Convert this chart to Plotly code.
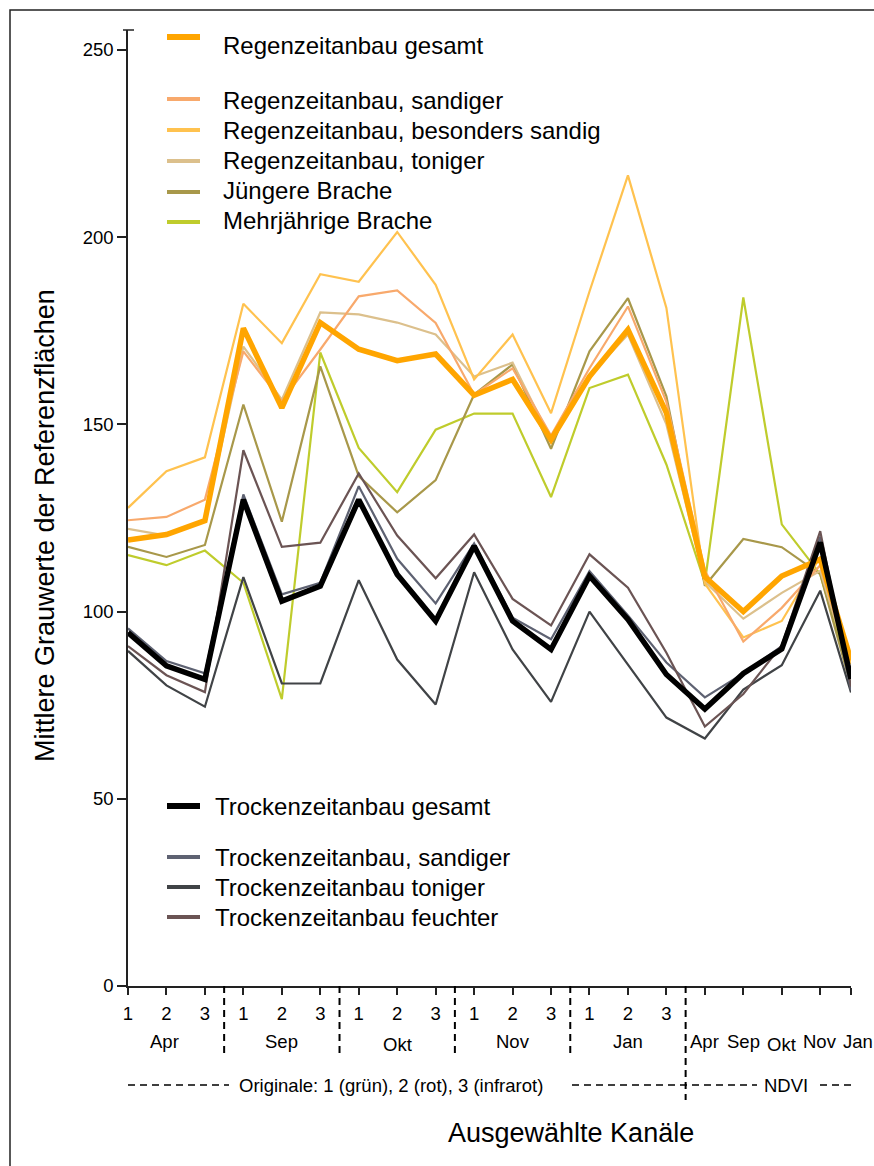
import plotly.graph_objects as go

# Channel labels: three original bands per date, then the NDVI dates
kanal_nr = ["1", "2", "3"] * 5 + [""] * 5
monate_original = ["Apr", "Sep", "Okt", "Nov", "Jan"]
monate_ndvi = ["Apr", "Sep", "Okt", "Nov", "Jan"]

# Mean grey values of the reference areas per channel
rz_gesamt = [119.1, 120.6, 124.3, 175.7, 154.4, 177.2, 170.1, 167.0, 168.8, 157.8,
             162.0, 145.9, 162.8, 175.3, 153.1, 109.3, 100.0, 109.5, 114.0, 87.0]
rz_sandiger = [124.4, 125.3, 129.9, 169.5, 156.2, 170.0, 184.2, 185.8, 177.1, 158.0,
               165.0, 147.0, 165.0, 181.5, 156.0, 111.0, 92.0, 101.0, 112.4, 84.0]
rz_bes_sandig = [127.7, 137.5, 141.2, 182.2, 171.7, 190.1, 188.1, 201.4, 187.3, 162.0,
                 174.0, 153.0, 185.5, 216.5, 181.1, 107.5, 93.1, 97.5, 114.6, 86.0]
rz_toniger = [122.1, 120.3, 124.5, 170.8, 156.6, 179.9, 179.4, 177.2, 174.0, 162.8,
              166.5, 146.0, 163.0, 174.0, 150.0, 108.0, 98.1, 105.0, 110.9, 84.0]
juengere_brache = [117.3, 114.6, 117.8, 155.3, 124.0, 165.5, 136.2, 126.5, 135.1, 158.0,
                   166.0, 143.5, 169.5, 183.7, 157.5, 106.9, 119.4, 117.2, 110.0, 80.0]
mehrj_brache = [115.1, 112.4, 116.3, 107.7, 76.6, 169.2, 143.7, 131.9, 148.6, 152.9,
                152.9, 130.6, 159.7, 163.3, 139.3, 107.7, 183.9, 123.3, 110.0, 82.0]

tz_gesamt = [94.4, 85.5, 81.9, 129.9, 102.8, 106.8, 129.9, 109.9, 97.5, 117.5,
             97.5, 89.9, 109.5, 97.9, 83.2, 74.0, 83.5, 90.0, 118.5, 82.0]
tz_sandiger = [95.5, 86.8, 83.5, 131.3, 104.6, 107.7, 133.5, 114.1, 102.2, 118.2,
               98.4, 92.6, 110.8, 99.0, 86.4, 77.1, 83.5, 90.8, 120.0, 79.0]
tz_toniger = [89.5, 80.3, 74.6, 109.2, 80.8, 80.8, 108.4, 87.2, 75.2, 110.5,
              89.9, 75.9, 100.0, 86.0, 71.7, 66.1, 79.2, 85.7, 105.6, 78.4]
tz_feuchter = [90.8, 83.0, 78.5, 143.1, 117.3, 118.4, 136.9, 120.3, 108.9, 120.6,
               103.4, 96.3, 115.3, 106.4, 89.0, 69.3, 78.0, 91.0, 121.5, 80.0]

y_ticks = [0, 50, 100, 150, 200, 250]

# Channel positions on the x scale (the last NDVI date sits at the axis end)
kanal_x = list(range(19)) + [18.8]

FONT = "Liberation Sans, Arial, sans-serif"
W, H = 874, 1166
ML, MR, MT, MB = 128, 23, 30, 180
PW, PH = W - ML - MR, H - MT - MB
SMALL = 18.5
LEG = 24
TITLE = 27


def pxx(xp):
    return (xp - ML) / PW


def pxy(yp):
    return (H - MB - yp) / PH


serien = [
    # name, values, colour, width
    ("Mehrjährige Brache", mehrj_brache, "#bfcc2c", 2.2),
    ("Jüngere Brache", juengere_brache, "#a8984a", 2.2),
    ("Regenzeitanbau, toniger", rz_toniger, "#dcc08c", 2.2),
    ("Regenzeitanbau, besonders sandig", rz_bes_sandig, "#ffc24f", 2.2),
    ("Regenzeitanbau, sandiger", rz_sandiger, "#f8a96c", 2.2),
    ("Trockenzeitanbau toniger", tz_toniger, "#404346", 2.2),
    ("Trockenzeitanbau sandiger", tz_sandiger, "#5e6272", 2.2),
    ("Trockenzeitanbau feuchter", tz_feuchter, "#6b5454", 2.2),
    ("Regenzeitanbau gesamt", rz_gesamt, "#ffa500", 5.5),
    ("Trockenzeitanbau gesamt", tz_gesamt, "#000000", 5.5),
]

fig = go.Figure()
for name, vals, col, lw in serien:
    fig.add_trace(go.Scatter(x=kanal_x, y=vals, mode="lines", name=name,
                             line=dict(color=col, width=lw), showlegend=False,
                             cliponaxis=False))

shapes = []
annotations = []

# outer frame
shapes.append(dict(type="rect", xref="paper", yref="paper",
                   x0=pxx(10), x1=pxx(W + 20), y0=pxy(10), y1=pxy(H + 20),
                   line=dict(color="#222", width=1.5)))
# cap at the top of the y axis
shapes.append(dict(type="line", xref="paper", yref="paper",
                   x0=pxx(123), x1=pxx(134), y0=1, y1=1,
                   line=dict(color="#222", width=1.5)))

# legend blocks
legende_oben = [
    ("Regenzeitanbau gesamt", "#ffa500", 6, 37, 45),
    ("Regenzeitanbau, sandiger", "#f8a96c", 4, 99, 100),
    ("Regenzeitanbau, besonders sandig", "#ffc24f", 4, 130, 130),
    ("Regenzeitanbau, toniger", "#dcc08c", 4, 161, 161),
    ("Jüngere Brache", "#a8984a", 4, 192, 191),
    ("Mehrjährige Brache", "#bfcc2c", 4, 222, 221),
]
for txt, col, lw, ys, yt in legende_oben:
    shapes.append(dict(type="line", xref="paper", yref="paper",
                       x0=pxx(167), x1=pxx(200), y0=pxy(ys), y1=pxy(ys),
                       line=dict(color=col, width=lw)))
    annotations.append(dict(text=txt, xref="paper", yref="paper", x=pxx(221), y=pxy(yt),
                            xanchor="left", yanchor="middle", showarrow=False,
                            font=dict(size=LEG, color="black", family=FONT)))

legende_unten = [
    ("Trockenzeitanbau gesamt", "#000000", 6, 806),
    ("Trockenzeitanbau, sandiger", "#5e6272", 4, 857),
    ("Trockenzeitanbau toniger", "#404346", 4, 887),
    ("Trockenzeitanbau feuchter", "#6b5454", 4, 917),
]
for txt, col, lw, ys in legende_unten:
    shapes.append(dict(type="line", xref="paper", yref="paper",
                       x0=pxx(167), x1=pxx(200), y0=pxy(ys), y1=pxy(ys),
                       line=dict(color=col, width=lw)))
    annotations.append(dict(text=txt, xref="paper", yref="paper", x=pxx(213), y=pxy(ys),
                            xanchor="left", yanchor="middle", showarrow=False,
                            font=dict(size=LEG, color="black", family=FONT)))

# dashed separators between the dates
DASH = "7px,5px"
for xs in [2.5, 5.5, 8.5, 11.5]:
    shapes.append(dict(type="line", xref="x", yref="paper", x0=xs, x1=xs,
                       y0=0, y1=pxy(1058), line=dict(color="black", width=2, dash=DASH)))
shapes.append(dict(type="line", xref="x", yref="paper", x0=14.5, x1=14.5,
                   y0=0, y1=pxy(1100), line=dict(color="black", width=2, dash=DASH)))

# dashed bracket line below the months
y_kl = pxy(1085)
for a, b in [(128, 229), (572, 757), (820, 852)]:
    shapes.append(dict(type="line", xref="paper", yref="paper", x0=pxx(a), x1=pxx(b),
                       y0=y_kl, y1=y_kl, line=dict(color="black", width=1.5, dash=DASH)))
annotations.append(dict(text="Originale: 1 (grün), 2 (rot), 3 (infrarot)", xref="paper",
                        yref="paper", x=pxx(391), y=y_kl, xanchor="center", yanchor="middle",
                        showarrow=False, font=dict(size=SMALL, color="black", family=FONT)))
annotations.append(dict(text="NDVI", xref="paper", yref="paper", x=pxx(786), y=y_kl,
                        xanchor="center", yanchor="middle", showarrow=False,
                        font=dict(size=SMALL, color="black", family=FONT)))

# month labels
for i, m in enumerate(monate_original):
    annotations.append(dict(text=m, xref="x", yref="paper", x=3 * i + 1, y=pxy(1041),
                            xanchor="center", yanchor="middle", showarrow=False,
                            xshift=-2 if i == 0 else 0, yshift=-3 if m == "Okt" else 0,
                            font=dict(size=SMALL, color="black", family=FONT)))
ndvi_x = kanal_x[15:]
for i, m in enumerate(monate_ndvi):
    annotations.append(dict(text=m, xref="x", yref="paper", x=ndvi_x[i], y=pxy(1041),
                            xanchor="center", yanchor="middle", showarrow=False,
                            xshift=7 if i == 4 else 0, yshift=-3 if m == "Okt" else 0,
                            font=dict(size=SMALL, color="black", family=FONT)))

# axis titles
annotations.append(dict(text="Mittlere Grauwerte der Referenzflächen", xref="paper", yref="paper",
                        x=pxx(45), y=pxy(526), textangle=-90, xanchor="center", yanchor="middle",
                        showarrow=False, font=dict(size=TITLE, color="black", family=FONT)))
annotations.append(dict(text="Ausgewählte Kanäle", xref="paper", yref="paper",
                        x=pxx(571), y=pxy(1133), xanchor="center", yanchor="middle",
                        showarrow=False, font=dict(size=TITLE, color="black", family=FONT)))

fig.update_layout(
    width=W, height=H,
    margin=dict(l=ML, r=MR, t=MT, b=MB),
    paper_bgcolor="white", plot_bgcolor="white",
    font=dict(family=FONT, color="black"),
    shapes=shapes, annotations=annotations,
    showlegend=False,
)
fig.update_xaxes(range=[0, 18.8], tickmode="array", tickvals=kanal_x, ticktext=kanal_nr,
                 showline=True, linecolor="#222", linewidth=1.5, ticks="outside", ticklen=7,
                 tickwidth=1.5, tickcolor="#222", showgrid=False, zeroline=False,
                 tickfont=dict(size=SMALL, color="black", family=FONT), ticklabelstandoff=3)
fig.update_yaxes(range=[0, PH / 3.744], tickmode="array", tickvals=y_ticks,
                 ticktext=[str(v) for v in y_ticks],
                 showline=True, linecolor="#222", linewidth=1.5, ticks="outside", ticklen=9,
                 tickwidth=1.5, tickcolor="#222", showgrid=False, zeroline=False,
                 tickfont=dict(size=SMALL, color="black", family=FONT))

fig.write_html("out.html")
